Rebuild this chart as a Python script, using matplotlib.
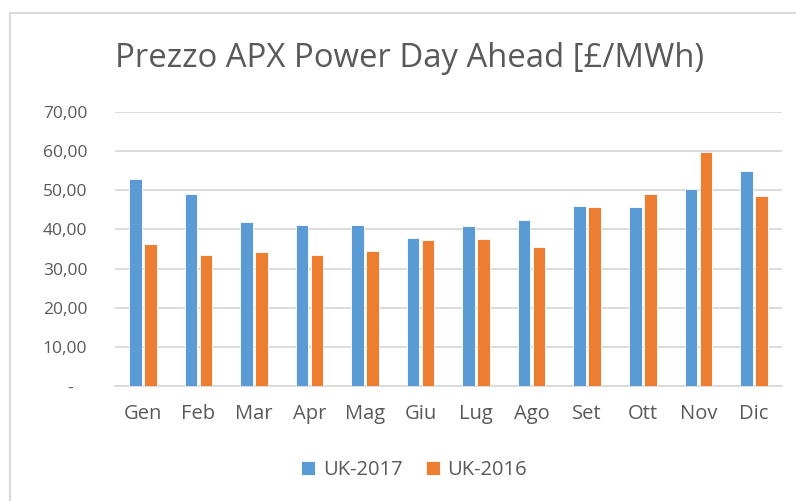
import numpy as np
import matplotlib
matplotlib.use('Agg')
import matplotlib.pyplot as plt
from matplotlib.patches import Rectangle

plt.rcParams['font.family'] = ['Open Sans', 'DejaVu Sans']

months  = ['Gen', 'Feb', 'Mar', 'Apr', 'Mag', 'Giu', 'Lug', 'Ago', 'Set', 'Ott', 'Nov', 'Dic']
uk_2017 = [52.9, 49.1, 42.0, 41.1, 41.2, 37.9, 40.8, 42.5, 46.1, 45.7, 50.3, 54.9]
uk_2016 = [36.3, 33.4, 34.2, 33.5, 34.4, 37.4, 37.5, 35.6, 45.7, 49.2, 59.8, 48.5]
yticks  = [0, 10, 20, 30, 40, 50, 60, 70]
ylabels = ['-   '] + [f'{v:.2f}'.replace('.', ',') for v in yticks[1:]]

BLUE, ORANGE, TXT, GRID = '#5B9BD5', '#ED7D31', '#595959', '#D9D9D9'

fig = plt.figure(figsize=(7.96, 5.01), dpi=100)
ax = fig.add_axes([0.1445, 0.2302, 0.8375, 0.5456])

x = np.arange(len(months))
w = 0.225
ax.bar(x - 0.135, uk_2017, w, color=BLUE, edgecolor='white', linewidth=0.6, label='UK-2017', zorder=3)
ax.bar(x + 0.135, uk_2016, w, color=ORANGE, edgecolor='white', linewidth=0.6, label='UK-2016', zorder=3)

ax.set_xlim(-0.5, len(months) - 0.5)
ax.set_ylim(0, 70)
ax.set_yticks(yticks)
ax.set_yticklabels(ylabels)
ax.set_xticks(x)
ax.set_xticklabels(months)
ax.tick_params(length=0, colors=TXT)
ax.tick_params(axis='y', pad=20, labelsize=12.5)
ax.tick_params(axis='x', pad=13, labelsize=14.5)
ax.grid(axis='y', color=GRID, lw=1.3, zorder=0)
for s in ['top', 'right', 'left']:
    ax.spines[s].set_visible(False)
ax.spines['bottom'].set_color(GRID)
ax.spines['bottom'].set_linewidth(1.3)

fig.text(0.515, 0.884, 'Prezzo APX Power Day Ahead [£/MWh)', ha='center', va='center',
         fontsize=23.7, color=TXT)

ax.legend(loc='center', bbox_to_anchor=(0.449, -0.308), ncol=2, frameon=False,
          fontsize=14.5, labelcolor=TXT, handlelength=0.65, handleheight=0.65,
          columnspacing=1.2, handletextpad=0.4)

fig.patches.append(Rectangle((10 / 796, -0.05), 1.2, 1 - 13 / 501 + 0.05, transform=fig.transFigure,
                             fill=False, edgecolor=GRID, lw=1.5))

fig.savefig('out.png', dpi=100)
